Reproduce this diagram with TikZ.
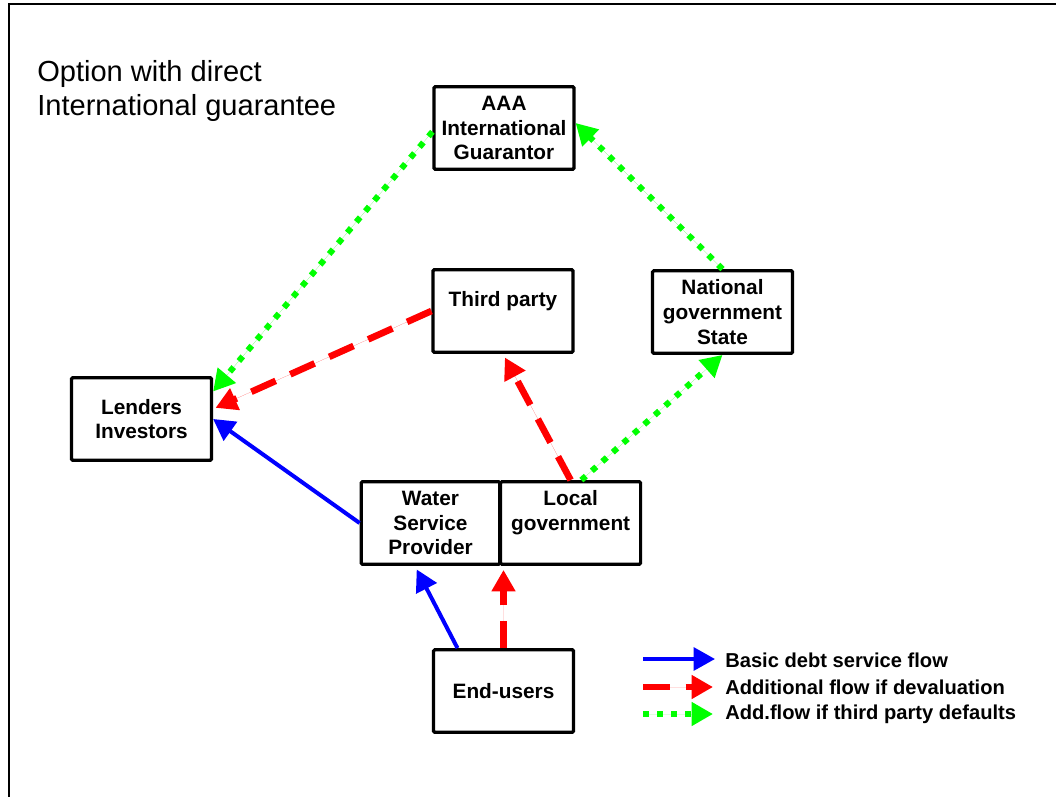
\documentclass[tikz,border=0pt]{standalone}
\usepackage{fontspec}
\setmainfont{Liberation Sans}
\usetikzlibrary{arrows.meta,positioning,calc}
\definecolor{basicc}{HTML}{0000FF}
\definecolor{devalc}{HTML}{FF0000}
\definecolor{dfltc}{HTML}{00FF00}
\tikzset{
  box/.style={draw, line width=2.4pt, rounded corners=1pt, minimum width=105pt, minimum height=62pt, inner sep=2pt, align=center, font=\fontsize{15.6}{18.5}\selectfont\bfseries},
  tip/.style={-{Triangle[length=16pt, width=17pt]}},
  flowbasic/.style={tip, draw=basicc, fill=basicc, line width=3pt},
  flowdeval/.style={tip, draw=devalc, fill=devalc, line width=5pt, dash pattern=on 20pt off 12pt},
  flowdflt/.style={tip, draw=dfltc, fill=dfltc, line width=4.5pt, dash pattern=on 4.5pt off 6pt},
  legtext/.style={anchor=west, inner sep=0pt, font=\fontsize{15.1}{16}\selectfont\bfseries},
}
\begin{document}
\begin{tikzpicture}[x=0.75pt, y=-0.75pt]
  \useasboundingbox (0,0) rectangle (1056,796);
  % frame
  \draw[line width=2pt] (9,800) |- (1060,4);
  \node[anchor=north west, inner sep=0pt, align=left, font=\fontsize{21.8}{26}\selectfont] (title) at (37,60)
    {Option with direct\\International guarantee};
  % boxes
  \node[box] (aaa) at (504,128) {AAA\\International\\Guarantor};
  \node[box] (third) at (503,311) {Third party\\~};
  \node[box] (national) at (722.5,312) {National\\government\\State};
  \node[box] (lenders) at (141.5,419) {Lenders\\Investors};
  \node[box, minimum width=104pt] (wsp) at (430.5,523) {Water\\Service\\Provider};
  \node[box, right=-1.8pt of wsp] (local) {Local\\government\\~};
  \node[box] (enduser) at (503.5,691) {End-users};
  % flows
  \draw[flowdflt] (aaa.183) -- (lenders.21);
  \draw[flowdflt] (national.north) -- (aaa.4);
  \draw[flowdflt] (local.76) -- (national.south);
  \draw[flowdeval, shorten >=2pt] (third.west) -- (lenders.8);
  \draw[flowdeval, shorten >=3pt] (local.north) -- (third.south);
  \draw[flowdeval, shorten >=3pt] (enduser.north) -- (enduser.north |- wsp.south);
  \draw[flowbasic] (wsp.west) -- (lenders.east);
  \draw[flowbasic, shorten >=3pt] (enduser.137) -- (wsp.250);
  % legend
  \coordinate (lg1a) at (643,659); \coordinate (lg1b) at (715,659);
  \coordinate (lg2a) at (643,687); \coordinate (lg2b) at (713,687);
  \coordinate (lg3a) at (643,714); \coordinate (lg3b) at (713,714);
  \draw[flowbasic] (lg1a) -- (lg1b);
  \draw[flowdeval] (lg2a) -- (lg2b);
  \draw[flowdflt] (lg3a) -- (lg3b);
  \node[legtext] (lt1) at (725,660) {Basic debt service flow};
  \node[legtext] (lt2) at (725,687) {Additional flow if devaluation};
  \node[legtext] (lt3) at (725,714) {Add.flow if third party defaults};
\end{tikzpicture}
\end{document}
